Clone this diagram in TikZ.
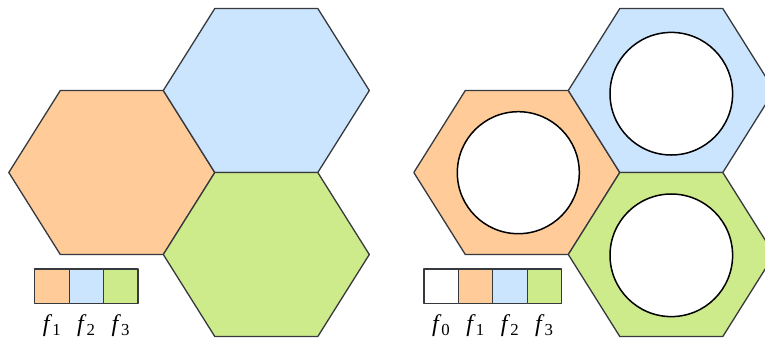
\documentclass[tikz,border=0pt]{standalone}
\usepackage{fontspec}
\setmainfont{Liberation Serif}
\usepackage{xcolor}
\usepackage{tikz}
\usetikzlibrary{positioning}
\definecolor{cellorange}{HTML}{FFCC99}
\definecolor{cellblue}{HTML}{CCE5FF}
\definecolor{cellgreen}{HTML}{CDEB8B}
\definecolor{edgegray}{HTML}{36393D}
\tikzset{
  hexcell/.style={draw=edgegray, line width=1.3pt},
  hole/.style={draw=black, fill=white, line width=1.5pt},
  keybox/.style={rectangle, draw=edgegray, line width=1.3pt, minimum size=34.4pt, inner sep=0pt, outer sep=0pt},
  keylabel/.style={inner sep=0pt, font=\fontsize{24}{28}\selectfont},
  every picture/.style={line cap=round, line join=round}
}
% squashed hexagon: centre (#1,#2), fill #3
\newcommand{\hexpath}[3]{%
  \draw[hexcell, fill=#3] ({#1-103},#2) -- ({#1-51.5},{#2-82}) -- ({#1+51.5},{#2-82})
    -- ({#1+103},#2) -- ({#1+51.5},{#2+82}) -- ({#1-51.5},{#2+82}) -- cycle;}
\newcommand{\fsub}[1]{\textit{f}\textsubscript{#1}}
\begin{document}
\begin{tikzpicture}[x=1pt, y=-1pt]
  \path[use as bounding box, clip] (0,0) rectangle (765,341);
  % left tiling
  \hexpath{111.8}{172.5}{cellorange}
  \hexpath{266.3}{90.5}{cellblue}
  \hexpath{266.3}{254.5}{cellgreen}
  \node[keybox, fill=cellorange] (ka1) at (52,286.3) {};
  \node[keybox, fill=cellblue, right=0pt of ka1] (ka2) {};
  \node[keybox, fill=cellgreen, right=0pt of ka2] (ka3) {};
  \node[keylabel, below=11pt of ka1] (la1) {\fsub{1}};
  \node[keylabel, below=11pt of ka2] (la2) {\fsub{2}};
  \node[keylabel, below=11pt of ka3] (la3) {\fsub{3}};
  % right tiling with holes
  \hexpath{516.8}{172.5}{cellorange}
  \hexpath{671.3}{90.5}{cellblue}
  \hexpath{671.3}{254.5}{cellgreen}
  \draw[hole] (518.3,172.7) circle (61pt);
  \draw[hole] (671.3,93.7) circle (61.3pt);
  \draw[hole] (671.3,255.3) circle (61.3pt);
  \node[keybox, fill=white] (kb0) at (441.2,286.3) {};
  \node[keybox, fill=cellorange, right=0pt of kb0] (kb1) {};
  \node[keybox, fill=cellblue, right=0pt of kb1] (kb2) {};
  \node[keybox, fill=cellgreen, right=0pt of kb2] (kb3) {};
  \node[keylabel, below=11pt of kb0] (lb0) {\fsub{0}};
  \node[keylabel, below=11pt of kb1] (lb1) {\fsub{1}};
  \node[keylabel, below=11pt of kb2] (lb2) {\fsub{2}};
  \node[keylabel, below=11pt of kb3] (lb3) {\fsub{3}};
\end{tikzpicture}
\end{document}
